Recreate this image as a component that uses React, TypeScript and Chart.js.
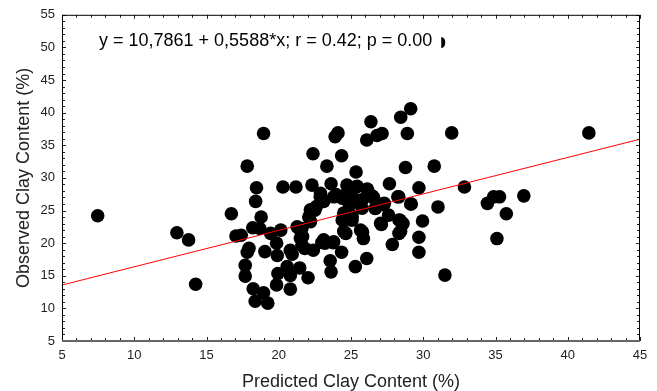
import React, { useEffect, useRef } from "react";
import { Chart, registerables } from "chart.js";

Chart.register(...registerables);

// Predicted clay content (%) — x values
const predicted: number[] = [
  7.47, 12.95, 13.76, 14.25, 16.72, 17.04, 17.4, 17.82, 18.2, 18.46,
  18.4, 18.78, 18.69, 17.94, 17.82, 17.68, 17.68, 18.23, 18.37, 18.95,
  19.24, 18.95, 19.04, 19.44, 20.14, 19.85, 19.9, 19.85, 19.94, 20.29,
  20.58, 20.8, 20.93, 20.8, 20.8, 21.19, 21.45, 21.6, 21.65, 21.6,
  21.8, 22.03, 22.08, 22.3, 22.37, 22.39, 22.2, 22.5, 22.87, 22.98,
  23.33, 23.2, 23.56, 23.62, 23.76, 23.62, 23.97, 23.9, 24.1, 24.35,
  24.35, 24.5, 24.64, 24.72, 24.9, 25.07, 25.35, 25.3, 25.35, 25.7,
  25.8, 25.86, 26.09, 26.15, 26.09, 26.38, 26.52, 26.67, 26.8, 27.15,
  27.1, 27.3, 27.66, 27.6, 27.86, 28.24, 28.44, 28.4, 28.32, 28.6,
  28.77, 28.9, 29.13, 29.13, 29.7, 29.7, 29.7, 29.95, 30.76, 31.02,
  31.5, 31.97, 32.85, 34.44, 34.87, 35.28, 35.1, 35.75, 36.96, 41.46,
  25.43, 26.12, 26.47, 22.89, 23.11, 23.8, 24.39, 24.7, 25.08, 25.77,
  25.77, 26.7, 22.19, 22.6, 21.5, 21.5, 24.5, 24.39, 25.08, 24.5,
  25.66, 27.05, 28.32, 28.43, 23.11, 23.8, 21.27, 26.58, 27.27, 28.31,
  29.17,
];

// Observed clay content (%) — y values
const observed: number[] = [
  24.2, 21.6, 20.5, 13.7, 24.5, 21.1, 21.2, 31.8, 22.35, 28.5,
  26.4, 24.0, 22.25, 19.2, 18.6, 16.6, 14.95, 13.0, 11.1, 12.4,
  10.8, 36.8, 18.7, 21.5, 22.0, 20.0, 18.1, 13.6, 15.35, 28.6,
  16.4, 18.9, 18.3, 15.05, 12.95, 28.6, 16.2, 22.25, 21.0, 19.7,
  19.2, 14.7, 24.0, 28.9, 33.7, 18.9, 23.3, 25.05, 27.1, 20.1,
  31.8, 20.0, 17.3, 15.6, 20.05, 29.1, 27.45, 36.3, 36.9, 33.4,
  18.6, 23.5, 21.5, 28.9, 25.8, 23.5, 30.9, 16.4, 28.6, 26.6,
  21.7, 20.7, 35.8, 28.1, 17.65, 38.6, 27.1, 25.3, 36.5, 36.8,
  22.85, 26.1, 29.1, 24.3, 19.8, 27.1, 39.3, 23.5, 21.5, 23.0,
  31.6, 36.8, 40.6, 26.0, 28.5, 20.9, 18.6, 23.4, 31.8, 25.55,
  15.1, 36.9, 28.6, 26.1, 27.1, 27.1, 20.7, 24.5, 27.25, 36.9,
  28.7, 28.3, 27.2, 27.65, 26.4, 27.1, 26.9, 27.6, 27.1, 26.6,
  25.35, 25.35, 25.1, 25.6, 22.0, 20.75, 24.6, 23.55, 24.1, 21.8,
  22.0, 23.05, 23.55, 21.8, 20.5, 20.2, 22.5, 26.9, 25.9, 27.1,
  26.0,
];

const xTickValues: number[] = [5, 10, 15, 20, 25, 30, 35, 40, 45];
const yTickValues: number[] = [5, 10, 15, 20, 25, 30, 35, 40, 45, 50, 55];
const intercept = 10.7861;
const slope = 0.5588;
const equationLabel = "y = 10,7861 + 0,5588*x; r = 0.42; p = 0.00";
const xTitle = "Predicted Clay Content (%)";
const yTitle = "Observed Clay Content (%)";

const FONT = '"Liberation Sans", Arial, Helvetica, sans-serif';

const framePlugin = {
  id: "frame",
  afterDraw(chart: any) {
    const { ctx, chartArea: a, scales } = chart;
    const xs = scales.x;
    const ys = scales.y;
    ctx.save();

    // minor / major inward ticks
    ctx.strokeStyle = "#222";
    ctx.lineWidth = 1;
    ctx.beginPath();
    for (let v = xs.min; v <= xs.max + 1e-9; v += 1) {
      const px = Math.round(xs.getPixelForValue(v)) + 0.5;
      const len = v % 5 === 0 ? 4 : 3;
      ctx.moveTo(px, a.bottom);
      ctx.lineTo(px, a.bottom - len);
      ctx.moveTo(px, a.top);
      ctx.lineTo(px, a.top + len);
    }
    for (let v = ys.min; v <= ys.max + 1e-9; v += 1) {
      const py = Math.round(ys.getPixelForValue(v)) + 0.5;
      const len = v % 5 === 0 ? 4 : 3;
      ctx.moveTo(a.left, py);
      ctx.lineTo(a.left + len, py);
      ctx.moveTo(a.right, py);
      ctx.lineTo(a.right - len, py);
    }
    ctx.stroke();

    // frame
    ctx.strokeStyle = "#000";
    ctx.lineWidth = 1;
    ctx.beginPath();
    ctx.moveTo(a.left + 0.5, a.bottom);
    ctx.lineTo(a.left + 0.5, a.top + 0.5);
    ctx.lineTo(a.right - 0.5, a.top + 0.5);
    ctx.lineTo(a.right - 0.5, a.bottom);
    ctx.stroke();
    ctx.strokeStyle = "#666";
    ctx.lineWidth = 2;
    ctx.beginPath();
    ctx.moveTo(a.left, a.bottom);
    ctx.lineTo(a.right, a.bottom);
    ctx.stroke();

    // equation annotation
    ctx.fillStyle = "#000";
    ctx.font = `18px ${FONT}`;
    ctx.textAlign = "left";
    ctx.textBaseline = "alphabetic";
    ctx.fillText(equationLabel, 99, 45.5);
    const w = ctx.measureText(equationLabel).width;
    ctx.beginPath();
    ctx.ellipse(99 + w + 9, 42.5, 4, 5.5, 0, -Math.PI / 2, Math.PI / 2);
    ctx.closePath();
    ctx.fill();

    // axis titles
    ctx.fillStyle = "#222";
    ctx.font = `18px ${FONT}`;
    ctx.textAlign = "center";
    ctx.textBaseline = "alphabetic";
    ctx.fillText(xTitle, (a.left + a.right) / 2, 387);
    ctx.save();
    ctx.translate(29, (a.top + a.bottom) / 2);
    ctx.rotate(-Math.PI / 2);
    ctx.fillText(yTitle, 0, 0);
    ctx.restore();

    ctx.restore();
  },
};

export default function App() {
  const ref = useRef<HTMLCanvasElement | null>(null);

  useEffect(() => {
    document.body.style.margin = "0";
    const canvas = ref.current;
    if (!canvas) return;
    const scatter = predicted.map((x, i) => ({ x, y: observed[i] }));
    const fit = [5, 45].map((x) => ({ x, y: intercept + slope * x }));

    const chart = new Chart(canvas, {
      type: "scatter",
      data: {
        datasets: [
          {
            type: "line",
            label: "fit",
            data: fit,
            borderColor: "#ff0000",
            borderWidth: 1,
            pointRadius: 0,
            fill: false,
            order: 0,
          },
          {
            label: "data",
            data: scatter,
            backgroundColor: "#000",
            borderColor: "#000",
            borderWidth: 0,
            pointRadius: 6.8,
            pointHoverRadius: 6.8,
            order: 1,
          },
        ] as any,
      },
      options: {
        responsive: false,
        animation: false,
        events: [],
        layout: { padding: { top: 14, right: 17, left: 0, bottom: 0 } },
        plugins: {
          legend: { display: false },
          tooltip: { enabled: false },
          title: { display: false },
        },
        scales: {
          x: {
            type: "linear",
            min: 5,
            max: 45,
            afterBuildTicks: (s: any) => {
              s.ticks = xTickValues.map((v) => ({ value: v }));
            },
            afterFit: (s: any) => {
              s.height = 50;
            },
            grid: { display: false, drawTicks: false },
            border: { display: false },
            ticks: {
              autoSkip: false,
              maxRotation: 0,
              padding: 7,
              color: "#222",
              font: { family: FONT, size: 13 },
            },
          },
          y: {
            type: "linear",
            min: 5,
            max: 55,
            afterBuildTicks: (s: any) => {
              s.ticks = yTickValues.map((v) => ({ value: v }));
            },
            afterFit: (s: any) => {
              s.width = 62;
            },
            grid: { display: false, drawTicks: false },
            border: { display: false },
            ticks: {
              autoSkip: false,
              padding: 7,
              color: "#222",
              font: { family: FONT, size: 13 },
            },
          },
        },
      },
      plugins: [framePlugin],
    } as any);

    return () => chart.destroy();
  }, []);

  return (
    <div style={{ width: 657, height: 391, position: "relative", background: "#fff" }}>
      <canvas ref={ref} width={657} height={391} style={{ display: "block" }} />
    </div>
  );
}
